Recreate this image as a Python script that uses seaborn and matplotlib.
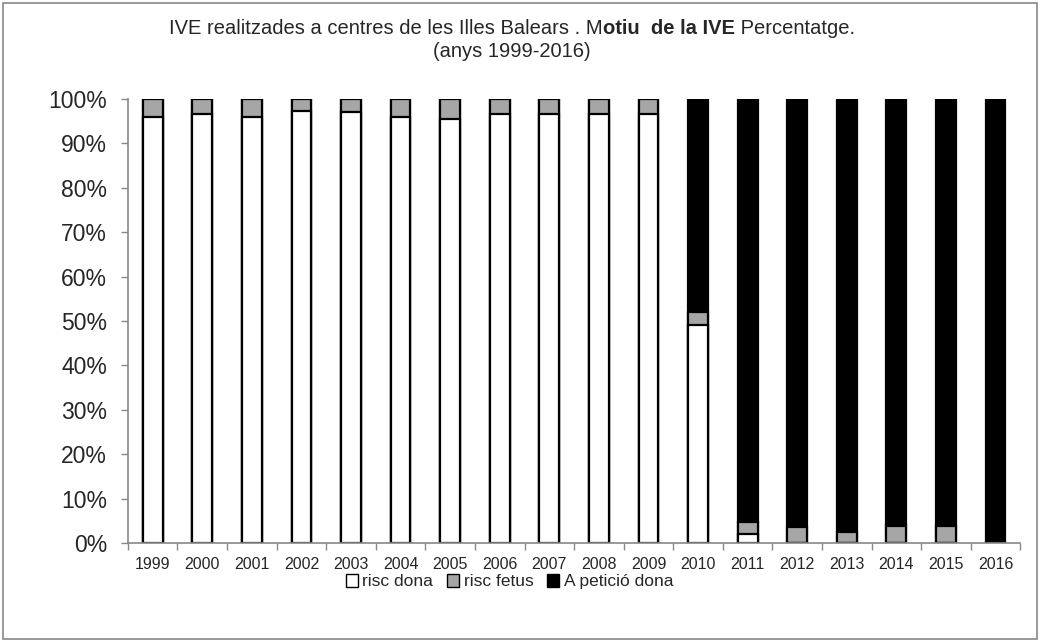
import numpy as np
import pandas as pd
import matplotlib
matplotlib.use("Agg")
import matplotlib.pyplot as plt
import seaborn as sns

years = ["1999", "2000", "2001", "2002", "2003", "2004", "2005", "2006", "2007",
         "2008", "2009", "2010", "2011", "2012", "2013", "2014", "2015", "2016"]
risc_dona = [96.0, 96.5, 96.0, 97.3, 97.0, 96.0, 95.5, 96.5, 96.5,
             96.5, 96.5, 49.0, 2.0, 0.0, 0.0, 0.0, 0.0, 0.0]
risc_fetus = [4.0, 3.5, 4.0, 2.7, 3.0, 4.0, 4.5, 3.5, 3.5,
              3.5, 3.5, 3.0, 2.7, 3.7, 2.5, 3.8, 3.8, 0.3]
a_peticio = [round(100 - d - f, 2) for d, f in zip(risc_dona, risc_fetus)]
series_names = ["risc dona", "risc fetus", "A petició dona"]
series_colors = ["#ffffff", "#a6a6a6", "#000000"]

sns.set_theme(style="white")
plt.rcParams['font.family'] = ['Liberation Sans', 'DejaVu Sans']

df = pd.DataFrame({"year": years, "dona": risc_dona, "fetus": risc_fetus, "peticio": a_peticio})
df["l3"] = df["dona"] + df["fetus"] + df["peticio"]
df["l2"] = df["dona"] + df["fetus"]
df["l1"] = df["dona"]

fig = plt.figure(figsize=(10.4, 6.42), dpi=100)
ax = fig.add_axes([0.123, 0.154, 0.858, 0.692])

for col, color in zip(["l3", "l2", "l1"], series_colors[::-1]):
    sns.barplot(data=df, x="year", y=col, color=color, width=0.4, ax=ax,
                edgecolor="black", linewidth=1.6, saturation=1, order=years)

ax.set_xlim(-0.5, len(years) - 0.5)
ax.set_ylim(0, 100)
ax.set_xlabel("")
ax.set_ylabel("")
ax.set_yticks(np.arange(0, 101, 10))
ax.set_yticklabels([f"{v}%" for v in range(0, 101, 10)], fontsize=16.5)
ax.set_xticks(range(len(years)))
ax.set_xticklabels(years, fontsize=11.5)
ax.set_xticks(np.arange(-0.5, len(years), 1), minor=True)
ax.tick_params(axis="x", which="major", length=0, pad=10)
ax.tick_params(axis="x", which="minor", length=5, color="#888888", width=1, direction="out", bottom=True)
ax.tick_params(axis="y", length=5, color="#888888", width=1, direction="out", left=True, pad=10)
for s in ["top", "right"]:
    ax.spines[s].set_visible(False)
for s in ["left", "bottom"]:
    ax.spines[s].set_color("#888888")
    ax.spines[s].set_linewidth(1.2)
ax.grid(False)

# legend
from matplotlib.patches import Patch
handles = [Patch(facecolor=c, edgecolor="black", linewidth=1.0) for c in series_colors]
fig.legend(handles, series_names, loc="center", bbox_to_anchor=(0.49, 0.094), ncol=3,
           frameon=False, fontsize=12.5,
           handlelength=0.7, handleheight=0.8, handletextpad=0.25, columnspacing=0.8)

# title with mixed weights
fig.canvas.draw()
renderer = fig.canvas.get_renderer()
pieces = [("IVE realitzades a centres de les Illes Balears . M", "normal"),
          ("otiu  de la IVE", "bold"),
          (" Percentatge.", "normal")]
fs = 14.5
texts = []
for s, w in pieces:
    t = fig.text(0, 0, s, fontsize=fs, fontweight=w, transform=None)
    texts.append(t)
widths = [t.get_window_extent(renderer).width for t in texts]
total = sum(widths)
x0 = 512 - total / 2
ypix = 642 - 34
for t, w in zip(texts, widths):
    t.set_position((x0, ypix))
    t.set_va("baseline")
    x0 += w
t2 = fig.text(512, 642 - 57, "(anys 1999-2016)", fontsize=fs, ha="center", va="baseline", transform=None)

# outer border
from matplotlib.patches import Rectangle
fig.patches.append(Rectangle((0.003, 0.004), 0.994, 0.992, transform=fig.transFigure,
                             fill=False, edgecolor="#888888", linewidth=1.2))

fig.savefig("out.png", dpi=100)
